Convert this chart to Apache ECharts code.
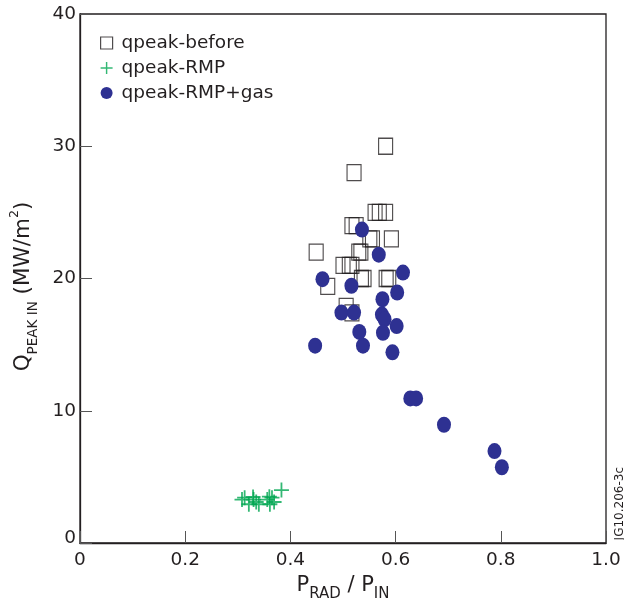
<!DOCTYPE html>
<html><head><meta charset="utf-8">
<script src="https://cdn.jsdelivr.net/npm/echarts@6/dist/echarts.min.js"></script>
<style>html,body{margin:0;padding:0;background:#fff}#c{width:624px;height:603px}</style>
</head><body><div id="c"></div>
<script>
// qpeak-before (open squares): [Prad/Pin, Qpeak]
const qpeakBefore = [
  [0.581,30],[0.521,28],[0.561,25],[0.569,25],[0.581,25],
  [0.517,24],[0.525,24],[0.551,23],[0.556,23],[0.592,23],
  [0.449,22],[0.530,22],[0.534,22],[0.500,21],[0.512,21],[0.517,21],
  [0.535,20],[0.540,20],[0.582,20],[0.587,20],[0.471,19.4],[0.506,17.9],[0.517,17.4]
];
// qpeak-RMP (crosses)
const qpeakRMP = [
  [0.308,3.28],[0.313,3.43],[0.321,2.93],[0.330,3.28],[0.329,3.48],[0.335,3.10],
  [0.340,2.93],[0.356,3.28],[0.360,3.50],[0.361,2.93],[0.365,3.43],[0.369,3.10],[0.383,4.0]
];
// qpeak-RMP+gas (filled ellipses)
const qpeakRMPgas = [
  [0.536,23.7],[0.568,21.8],[0.614,20.45],[0.461,19.95],[0.516,19.45],[0.603,18.94],
  [0.575,18.43],[0.497,17.42],[0.521,17.42],[0.574,17.27],[0.579,16.92],[0.602,16.4],
  [0.531,15.96],[0.576,15.9],[0.447,14.92],[0.538,14.92],[0.594,14.42],
  [0.628,10.93],[0.639,10.93],[0.692,8.94],[0.788,6.95],[0.802,5.73]
];
const seriesNames = ['qpeak-before','qpeak-RMP','qpeak-RMP+gas'];
const xTicks = [0, 0.2, 0.4, 0.6, 0.8, 1.0];
const yTicks = [0, 10, 20, 30, 40];

const FONT = 'DejaVu Sans';
const INK = '#231f20';
const crossPath = 'path://M-1.2,-10H1.2V-1.2H10V1.2H1.2V10H-1.2V1.2H-10V-1.2H-1.2Z';
const chart = echarts.init(document.getElementById('c'));
chart.setOption({
  animation:false,
  textStyle:{fontFamily:FONT},
  grid:{left:80,right:18,top:14,bottom:60,outerBoundsMode:'none',containLabel:false,show:true,borderColor:INK,borderWidth:1.3,backgroundColor:'transparent'},
  legend:{
    orient:'vertical', left:100, top:33, padding:0, itemGap:5, itemWidth:12, itemHeight:12,
    textStyle:{fontSize:18.5,lineHeight:20,color:INK,fontFamily:FONT,padding:[0,0,0,4]},
    data:[
      {name:seriesNames[0], icon:'rect', itemStyle:{color:'#fff',borderColor:INK,borderWidth:1.2}},
      {name:seriesNames[1], icon:crossPath, itemStyle:{color:'#00a651'}},
      {name:seriesNames[2], icon:'circle', itemStyle:{color:'#2e3192'}}
    ]
  },
  xAxis:{
    type:'value', min:xTicks[0], max:xTicks[xTicks.length-1], interval:0.2,
    name:'{m|P}{s|RAD}{m| / P}{s|IN}', nameLocation:'middle', nameGap:27,
    nameTextStyle:{rich:{m:{fontSize:21,color:INK,fontFamily:FONT,lineHeight:26,verticalAlign:'bottom'},s:{fontSize:15,color:INK,fontFamily:FONT,verticalAlign:'bottom',lineHeight:18,padding:[0,0,-6,0]}}},
    axisLine:{show:true,lineStyle:{color:INK,width:1.3}},
    axisTick:{show:true,inside:true,length:12,lineStyle:{color:'#555',width:1}},
    splitLine:{show:false},
    axisLabel:{fontSize:18.5,color:INK,margin:8,fontFamily:FONT,formatter:v=>v===0?'0':v.toFixed(1)}
  },
  yAxis:{
    type:'value', min:yTicks[0], max:yTicks[yTicks.length-1], interval:10,
    name:'{m|Q}{s|PEAK IN}{m| (MW/m}{p|2}{m|)}', nameLocation:'middle', nameGap:46, nameRotate:90,
    nameTextStyle:{padding:[0,16,0,0],rich:{m:{fontSize:21.5,color:INK,fontFamily:FONT,lineHeight:26,verticalAlign:'bottom'},s:{fontSize:13.5,color:INK,fontFamily:FONT,verticalAlign:'bottom',lineHeight:17,padding:[0,0,-6,0]},p:{fontSize:12.5,color:INK,fontFamily:FONT,verticalAlign:'top',lineHeight:13,padding:[0,0,11,0]}}},
    axisLine:{show:true,lineStyle:{color:INK,width:1.3}},
    axisTick:{show:true,inside:true,length:12,lineStyle:{color:'#555',width:1}},
    splitLine:{show:false},
    axisLabel:{fontSize:18.5,color:INK,margin:4,fontFamily:FONT,
      formatter:v=>v===0?'{z|0}':String(v),
      rich:{z:{fontSize:18.5,color:INK,fontFamily:FONT,padding:[0,0,10,0]}}}
  },
  graphic:[{type:'text',left:614,top:467,rotation:Math.PI/2,style:{text:'JG10.206-3c',fontSize:12,fill:INK,fontFamily:FONT}}],
  series:[
    {name:seriesNames[0],type:'scatter',data:qpeakBefore,symbol:'rect',symbolSize:[14,16],
     itemStyle:{color:'transparent',borderColor:INK,borderWidth:1.2},z:3},
    {name:seriesNames[1],type:'scatter',data:qpeakRMP,symbol:crossPath,symbolSize:15,
     itemStyle:{color:'#00a651'},z:4},
    {name:seriesNames[2],type:'scatter',data:qpeakRMPgas,symbol:'circle',symbolSize:[14,16],
     itemStyle:{color:'#2e3192',opacity:1},z:5}
  ]
});
</script></body></html>
